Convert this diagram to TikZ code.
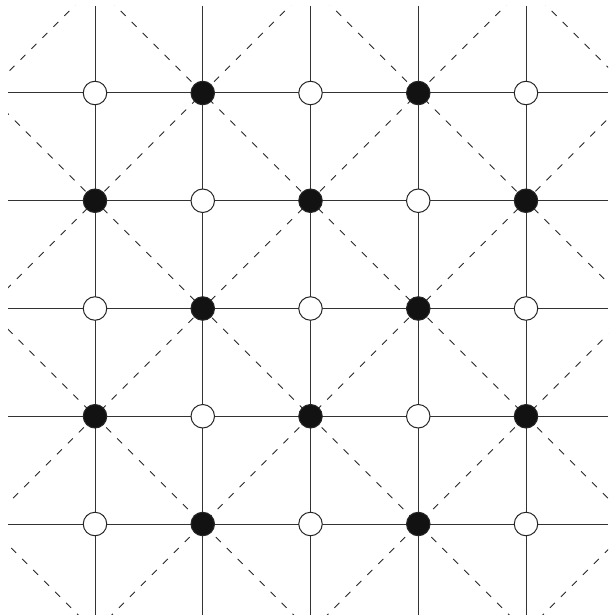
\documentclass[tikz,border=0pt]{standalone}
\begin{document}
\begin{tikzpicture}[x=1pt,y=-1pt,
  gridline/.style={line width=1pt,draw=black!80},
  dashline/.style={line width=0.8pt,draw=black!85,dash pattern=on 7pt off 8.5pt},
  site/.style={circle,draw=black!85,line width=1pt,inner sep=0pt,minimum size=23.5pt},
  whitesite/.style={site,fill=white},
  blacksite/.style={site,fill=black!93}]
\useasboundingbox (0,0) rectangle (608,615);
\fill[white] (0,0) rectangle (608,615);
% dashed diagonals
\begin{scope}
\clip (8,6) rectangle (608,615);
\foreach \k in {-1,...,4} {
  \coordinate (pa\k) at ({295.75+215.5*\k},0);
  \coordinate (pb\k) at ({295.75+215.5*\k-700},700);
  \draw[dashline] (pa\k) -- (pb\k);
}
\foreach \k in {-3,...,2} {
  \coordinate (ma\k) at ({109.75+215.5*\k},0);
  \coordinate (mb\k) at ({109.75+215.5*\k+700},700);
  \draw[dashline] (ma\k) -- (mb\k);
}
\end{scope}
% grid lines
\foreach \i in {0,...,4} {
  \coordinate (vt\i) at ({95+107.75*\i},6);
  \coordinate (vb\i) at ({95+107.75*\i},615);
  \draw[gridline] (vt\i) -- (vb\i);
  \coordinate (hl\i) at (8,{93+107.75*\i});
  \coordinate (hr\i) at (608,{93+107.75*\i});
  \draw[gridline] (hl\i) -- (hr\i);
}
% sites
\foreach \i in {0,...,4} {
  \foreach \j in {0,...,4} {
    \pgfmathtruncatemacro{\parity}{mod(\i+\j,2)}
    \ifnum\parity=1
      \node[blacksite] (n-\i-\j) at ({95+107.75*\i},{93+107.75*\j}) {};
    \else
      \node[whitesite] (n-\i-\j) at ({95+107.75*\i},{93+107.75*\j}) {};
    \fi
  }
}
\end{tikzpicture}
\end{document}
